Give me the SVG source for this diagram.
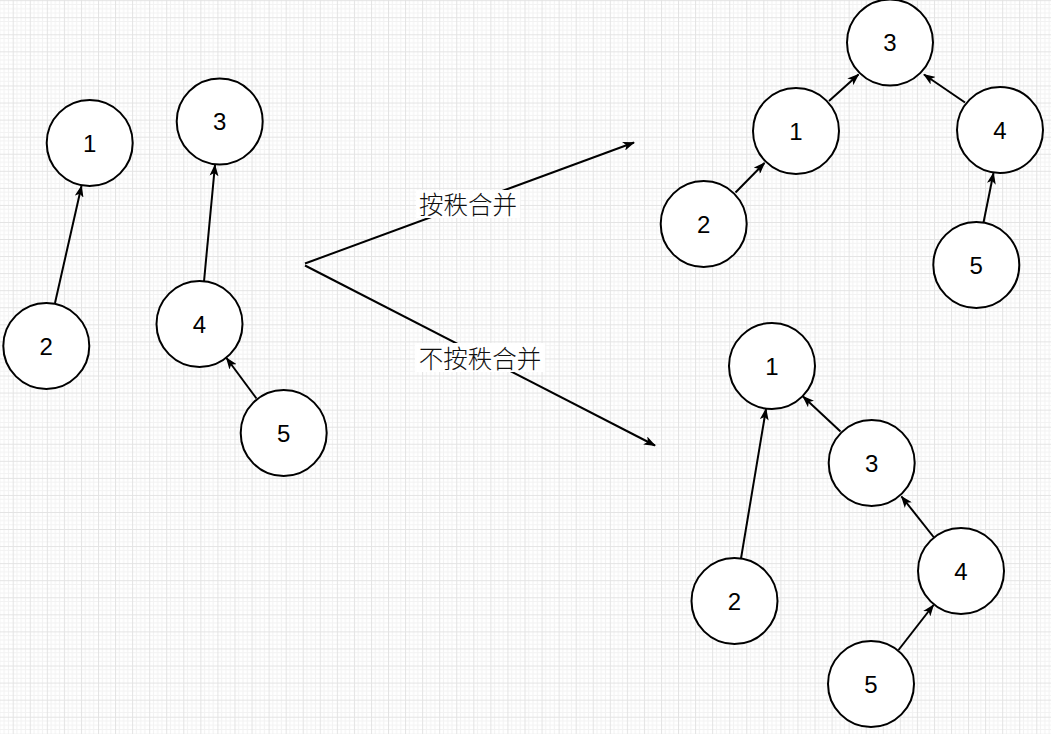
<svg xmlns="http://www.w3.org/2000/svg" width="1051" height="734" viewBox="0 0 1051 734">
<style>
.node circle{fill:#fff;stroke:#000;stroke-width:2}
.node text{font-family:"Liberation Sans",Arial,sans-serif;font-size:24px;fill:#000;text-anchor:middle}
.edge{stroke:#000;stroke-width:2;fill:none;marker-end:url(#arr)}
.lbl{font-family:"Noto Sans CJK SC",sans-serif;font-weight:300;font-size:24.5px;fill:#111;text-anchor:middle;dominant-baseline:central}
.lblbg{fill:#fff}
</style>
<defs>
<pattern id="grid" patternUnits="userSpaceOnUse" x="12.7" y="0.2" width="17.06" height="17.06">
<rect width="17.06" height="17.06" fill="#fff"/>
<path d="M4.265 0V17.06M8.53 0V17.06M12.795 0V17.06M0 4.265H17.06M0 8.53H17.06M0 12.795H17.06" stroke="#f2f2f2" stroke-width="1"/>
<path d="M0.5 0V17.06M0 0.5H17.06" stroke="#e3e3e3" stroke-width="1"/>
</pattern>
<marker id="arr" viewBox="0 0 12 9" refX="11" refY="4.5" markerWidth="12" markerHeight="9" markerUnits="userSpaceOnUse" orient="auto">
<path d="M0,0 L12,4.5 L0,9 L3,4.5 Z" fill="#000"/>
</marker>
</defs>
<rect width="1051" height="734" fill="url(#grid)"/>

<g id="connectors">
<line class="edge" x1="55" y1="303" x2="81.5" y2="186"/>
<line class="edge" x1="204" y1="281.5" x2="215" y2="165"/>
<line class="edge" x1="256.5" y1="398.5" x2="226.5" y2="358"/>
<line class="edge" x1="305" y1="263.5" x2="634" y2="142.5"/>
<line class="edge" x1="305" y1="265.5" x2="655" y2="445.5"/>
<line class="edge" x1="829" y1="101" x2="858.5" y2="74.5"/>
<line class="edge" x1="965" y1="102.5" x2="924" y2="74.5"/>
<line class="edge" x1="735.5" y1="192.5" x2="764.5" y2="163"/>
<line class="edge" x1="983.5" y1="222.5" x2="993.5" y2="173"/>
<line class="edge" x1="741" y1="558.5" x2="766" y2="409"/>
<line class="edge" x1="840.5" y1="431.5" x2="803" y2="396.5"/>
<line class="edge" x1="934" y1="537.5" x2="901.5" y2="496.5"/>
<line class="edge" x1="898.5" y1="650" x2="933.5" y2="605"/>
<g id="label-rank">
<rect class="lblbg" x="416" y="190" width="104" height="28"/>
<text class="lbl" x="468" y="203.5">按秩合并</text>
</g>
<g id="label-norank">
<rect class="lblbg" x="415" y="343" width="130" height="29"/>
<text class="lbl" x="480" y="357.5">不按秩合并</text>
</g>
</g>

<g id="a1" class="node"><circle cx="89.7" cy="143" r="43"/><text x="89.7" y="151.5">1</text></g>
<g id="a2" class="node"><circle cx="46.3" cy="346" r="43"/><text x="46.3" y="354.5">2</text></g>
<g id="a3" class="node"><circle cx="219.7" cy="121.5" r="43"/><text x="219.7" y="130">3</text></g>
<g id="a4" class="node"><circle cx="199.5" cy="324" r="43"/><text x="199.5" y="332.5">4</text></g>
<g id="a5" class="node"><circle cx="283.7" cy="433" r="43"/><text x="283.7" y="441.5">5</text></g>

<g id="b3" class="node"><circle cx="890" cy="42.5" r="43"/><text x="890" y="51">3</text></g>
<g id="b1" class="node"><circle cx="796" cy="131" r="43"/><text x="796" y="139.5">1</text></g>
<g id="b4" class="node"><circle cx="1000" cy="130" r="43"/><text x="1000" y="138.5">4</text></g>
<g id="b2" class="node"><circle cx="703.7" cy="224" r="43"/><text x="703.7" y="232.5">2</text></g>
<g id="b5" class="node"><circle cx="976.3" cy="265" r="43"/><text x="976.3" y="273.5">5</text></g>

<g id="c1" class="node"><circle cx="772" cy="366" r="43"/><text x="772" y="374.5">1</text></g>
<g id="c3" class="node"><circle cx="871.7" cy="463" r="43"/><text x="871.7" y="471.5">3</text></g>
<g id="c4" class="node"><circle cx="961" cy="571" r="43"/><text x="961" y="579.5">4</text></g>
<g id="c2" class="node"><circle cx="734.5" cy="601" r="43"/><text x="734.5" y="609.5">2</text></g>
<g id="c5" class="node"><circle cx="871" cy="684" r="43"/><text x="871" y="692.5">5</text></g>
</svg>
